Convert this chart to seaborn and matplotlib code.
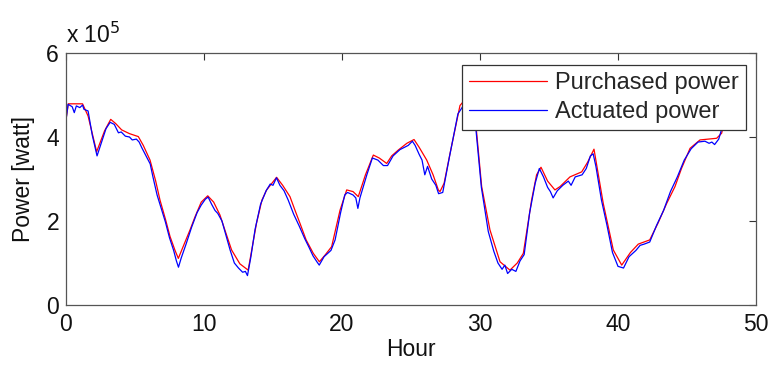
import matplotlib
matplotlib.use("Agg")
import matplotlib.pyplot as plt
import seaborn as sns
import pandas as pd

# ---- data (values in units of 1e5 W) ----
purchased_hour = [0.0, 0.17, 1.2, 1.6, 2.22, 2.8, 3.24, 3.6, 4.03, 4.6, 5.24, 5.6, 6.09, 6.5, 6.81,
                  7.2, 7.54, 7.9, 8.14, 8.5, 8.99, 9.35, 9.8, 10.27, 10.7, 11.16, 11.6, 12.0, 12.6,
                  13.2, 13.8, 14.2, 14.54, 15.26, 15.7, 16.23, 16.6, 16.96, 17.4, 17.92, 18.36, 18.8,
                  19.25, 19.86, 20.34, 20.8, 21.18, 21.7, 22.27, 22.7, 23.24, 23.6, 24.08, 24.7,
                  25.22, 25.6, 26.14, 26.6, 26.98, 27.1, 27.4, 27.83, 28.55, 29.2, 29.7, 30.12,
                  30.72, 31.45, 32.17, 32.7, 33.14, 33.74, 34.1, 34.42, 34.9, 35.43, 35.8, 36.52,
                  37.37, 37.8, 38.26, 38.93, 39.66, 40.27, 40.9, 41.47, 42.3, 42.9, 43.53, 44.13,
                  44.6, 45.22, 45.94, 47.15, 47.51, 47.75]
purchased_power = [4.42, 4.79, 4.79, 4.50, 3.65, 4.15, 4.42, 4.32, 4.17, 4.08, 4.01, 3.80, 3.45, 2.95,
                   2.50, 2.05, 1.63, 1.30, 1.11, 1.40, 1.79, 2.10, 2.45, 2.60, 2.45, 2.14, 1.70, 1.31,
                   0.98, 0.83, 1.94, 2.50, 2.74, 3.04, 2.85, 2.58, 2.25, 1.94, 1.55, 1.23, 1.03, 1.20,
                   1.39, 2.26, 2.74, 2.70, 2.58, 3.10, 3.57, 3.50, 3.37, 3.55, 3.69, 3.85, 3.94, 3.75,
                   3.45, 3.10, 2.74, 2.70, 2.90, 3.61, 4.75, 5.00, 4.30, 2.82, 1.79, 1.03, 0.83, 1.00,
                   1.23, 2.50, 3.10, 3.28, 2.95, 2.74, 2.82, 3.05, 3.17, 3.40, 3.71, 2.42, 1.31, 0.95,
                   1.25, 1.45, 1.55, 1.95, 2.42, 2.82, 3.25, 3.73, 3.93, 3.97, 4.09, 4.40]

actuated_hour = [0.0, 0.15, 0.45, 0.6, 0.75, 1.0, 1.2, 1.3, 1.6, 1.9, 2.25, 2.45, 2.9, 3.2, 3.5, 3.8,
                 4.0, 4.3, 4.6, 4.8, 5.1, 5.3, 5.5, 5.8, 6.1, 6.3, 6.6, 6.9, 7.2, 7.5, 7.8, 8.0, 8.15,
                 8.35, 8.7, 9.1, 9.5, 9.8, 10.1, 10.3, 10.55, 10.8, 11.0, 11.3, 11.6, 11.9, 12.2, 12.5,
                 12.8, 13.0, 13.15, 13.4, 13.7, 14.1, 14.5, 14.8, 15.0, 15.25, 15.5, 15.8, 16.1, 16.5,
                 16.9, 17.3, 17.6, 17.9, 18.2, 18.35, 18.7, 19.2, 19.5, 19.9, 20.2, 20.4, 20.8, 21.0,
                 21.15, 21.3, 21.8, 22.2, 22.6, 23.0, 23.3, 23.7, 24.2, 24.8, 25.1, 25.3, 25.6, 25.8,
                 26.0, 26.2, 26.5, 26.8, 27.0, 27.3, 27.8, 28.4, 29.2, 29.7, 30.1, 30.6, 31.0, 31.3,
                 31.6, 31.8, 32.0, 32.3, 32.6, 32.9, 33.2, 33.6, 34.0, 34.3, 34.6, 34.9, 35.1, 35.3,
                 35.6, 36.0, 36.4, 36.6, 36.9, 37.4, 37.7, 38.0, 38.2, 38.4, 38.8, 39.2, 39.6, 40.0,
                 40.4, 40.8, 41.3, 41.6, 41.9, 42.3, 42.8, 43.3, 43.8, 44.3, 44.8, 45.3, 45.8, 46.3,
                 46.6, 46.8, 47.0, 47.3, 47.7]
actuated_power = [4.40, 4.78, 4.72, 4.58, 4.74, 4.70, 4.76, 4.66, 4.62, 4.05, 3.55, 3.75, 4.20, 4.35,
                  4.30, 4.10, 4.12, 4.02, 4.00, 3.93, 3.95, 3.88, 3.74, 3.55, 3.36, 3.05, 2.62, 2.30,
                  1.98, 1.60, 1.30, 1.05, 0.90, 1.12, 1.45, 1.85, 2.20, 2.38, 2.52, 2.57, 2.40, 2.25,
                  2.18, 2.00, 1.65, 1.30, 1.00, 0.88, 0.78, 0.80, 0.70, 1.15, 1.80, 2.40, 2.72, 2.88,
                  2.85, 3.03, 2.85, 2.72, 2.50, 2.16, 1.88, 1.58, 1.38, 1.17, 1.02, 0.95, 1.15, 1.30,
                  1.55, 2.20, 2.62, 2.68, 2.62, 2.55, 2.30, 2.55, 3.10, 3.50, 3.45, 3.32, 3.32, 3.55,
                  3.70, 3.80, 3.90, 3.80, 3.58, 3.45, 3.10, 3.30, 3.00, 2.85, 2.65, 2.68, 3.55, 4.55,
                  4.95, 4.20, 2.80, 1.75, 1.28, 1.00, 0.85, 0.95, 0.75, 0.85, 0.80, 1.05, 1.20, 2.20,
                  2.90, 3.25, 3.05, 2.80, 2.70, 2.55, 2.72, 2.85, 2.95, 2.85, 3.05, 3.10, 3.25, 3.55,
                  3.60, 3.30, 2.50, 1.90, 1.25, 0.92, 0.88, 1.15, 1.30, 1.42, 1.45, 1.50, 1.90, 2.25,
                  2.70, 3.05, 3.45, 3.72, 3.88, 3.90, 3.85, 3.88, 3.82, 3.95, 4.40]

x_ticks = [0, 10, 20, 30, 40, 50]
y_ticks = [0, 2, 4, 6]

sns.set_style("white")
plt.rcParams['font.family'] = ['Liberation Sans', 'DejaVu Sans']

df = pd.concat([
    pd.DataFrame({"Hour": purchased_hour, "Power": purchased_power, "Series": "Purchased power"}),
    pd.DataFrame({"Hour": actuated_hour, "Power": actuated_power, "Series": "Actuated power"}),
], ignore_index=True)

fig = plt.figure(figsize=(7.72, 3.65), dpi=100)
ax = fig.add_axes([66 / 772, 60 / 365, 690 / 772, 252 / 365])

sns.lineplot(data=df, x="Hour", y="Power", hue="Series", sort=False, estimator=None,
             palette={"Purchased power": "#ff0000", "Actuated power": "#0000ff"},
             linewidth=0.9, ax=ax)

FS = 16.5
ax.set_xlim(0, 50)
ax.set_ylim(0, 6)
ax.set_xticks(x_ticks)
ax.set_yticks(y_ticks)
ax.tick_params(direction='in', length=5, width=0.8, color='#333333', labelsize=FS,
               top=True, right=True, labelcolor='#111111')
ax.tick_params(axis='x', pad=6)
ax.tick_params(axis='y', pad=5)
for s in ax.spines.values():
    s.set_color('#555555')
    s.set_linewidth(0.9)
ax.set_xlabel("Hour", fontsize=FS, labelpad=1, color='#111111')
ax.set_ylabel("Power [watt]", fontsize=FS, labelpad=8, color='#111111')
ax.text(0.0, 1.02, "x 10$^{5}$", transform=ax.transAxes, fontsize=FS, ha='left', va='bottom',
        color='#111111')

leg = ax.legend(loc='upper right', bbox_to_anchor=(0.9855, 0.952), fontsize=17, frameon=True,
                fancybox=False, edgecolor='#333333', handlelength=3.3, handletextpad=0.35,
                borderpad=0.3, labelspacing=0.3, borderaxespad=0.0)
leg.get_frame().set_linewidth(0.9)
leg.get_frame().set_facecolor('white')
leg.get_frame().set_alpha(1.0)

fig.savefig("out.png", dpi=100)
